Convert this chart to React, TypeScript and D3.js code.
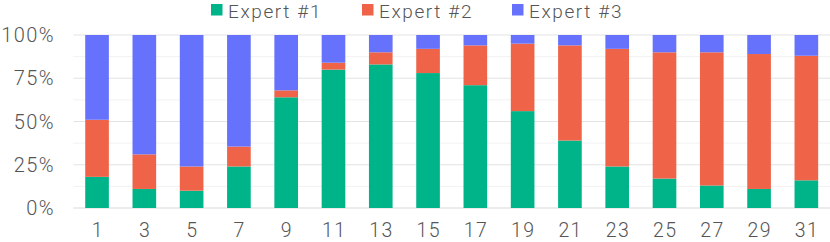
import React from "react";
import * as d3 from "d3";

const days = ["1", "3", "5", "7", "9", "11", "13", "15", "17", "19", "21", "23", "25", "27", "29", "31"];
const expert1 = [18, 11, 10, 24, 64, 80, 83, 78, 71, 56, 39, 24, 17, 13, 11, 16];
const expert2 = [33, 20, 14, 11.5, 4, 4, 7, 14, 23, 39, 55, 68, 73, 77, 78, 72];
const expert3 = [49, 69, 76, 64.5, 32, 16, 10, 8, 6, 5, 6, 8, 10, 10, 11, 12];
const seriesNames = ["Expert #1", "Expert #2", "Expert #3"];
const colors = ["#00b48a", "#ef6449", "#6672fb"];
const yTicks = [0, 25, 50, 75, 100];

const width = 830;
const height = 242;
const margin = { top: 35, right: 0, bottom: 34, left: 73.4 };
const font = "Roboto, sans-serif";
const textStyle = { letterSpacing: "1.4px" };

const App: React.FC = () => {
  const rows = days.map((d, i) => ({
    day: d,
    e1: expert1[i],
    e2: expert2[i],
    e3: expert3[i],
  }));

  // normalize to 100%
  const stacked = d3
    .stack<(typeof rows)[number]>()
    .keys(["e1", "e2", "e3"])
    .offset(d3.stackOffsetExpand)(rows as any);

  const x = d3
    .scaleBand()
    .domain(days)
    .range([margin.left, width - margin.right])
    .paddingInner(0.5)
    .paddingOuter(0.25);

  const y = d3
    .scaleLinear()
    .domain([0, 1])
    .range([height - margin.bottom, margin.top]);

  const minor = d3.range(0.125, 1, 0.25);

  const legendX = [211, 362, 512];

  return (
    <div style={{ position: "fixed", left: 0, top: 0 }}>
      <svg width={width} height={height} style={{ display: "block", background: "#fff" }}>
        {/* minor grid */}
        {minor.map((t) => (
          <line key={"m" + t} x1={margin.left} x2={width} y1={y(t)} y2={y(t)} stroke="#f2f2f2" strokeWidth={1} />
        ))}
        {/* major grid */}
        {yTicks.map((t) => (
          <line
            key={"g" + t}
            x1={margin.left}
            x2={width}
            y1={y(t / 100)}
            y2={y(t / 100)}
            stroke={t === 0 ? "#d9d9d9" : "#e3e3e3"}
            strokeWidth={1}
          />
        ))}
        {/* y labels */}
        {yTicks.map((t) => (
          <text
            key={"y" + t}
            x={55}
            y={y(t / 100)}
            dy="0.36em"
            textAnchor="end"
            fontFamily={font}
            fontWeight={300}
            fontSize={20}
            fill="#555"
            style={textStyle}
          >
            {t}%
          </text>
        ))}
        {/* bars */}
        {stacked.map((s, si) => (
          <g key={s.key} fill={colors[si]}>
            {s.map((d, i) => (
              <rect
                key={i}
                x={x(days[i])}
                width={x.bandwidth()}
                y={y(d[1])}
                height={y(d[0]) - y(d[1])}
              />
            ))}
          </g>
        ))}
        {/* x labels */}
        {days.map((d) => (
          <text
            key={"x" + d}
            x={(x(d) ?? 0) + x.bandwidth() / 2 + 0.7}
            y={236.5}
            textAnchor="middle"
            fontFamily={font}
            fontWeight={300}
            fontSize={19.5}
            fill="#555"
            style={textStyle}
          >
            {d}
          </text>
        ))}
        {/* legend */}
        {seriesNames.map((n, i) => (
          <g key={n} transform={`translate(${legendX[i]},0)`}>
            <rect x={0} y={4} width={11.5} height={11.5} fill={colors[i]} />
            <text x={17} y={17.5} fontFamily={font} fontWeight={300} fontSize={19} fill="#555" style={{ letterSpacing: "1.6px" }}>
              {n}
            </text>
          </g>
        ))}
      </svg>
    </div>
  );
};

export default App;
